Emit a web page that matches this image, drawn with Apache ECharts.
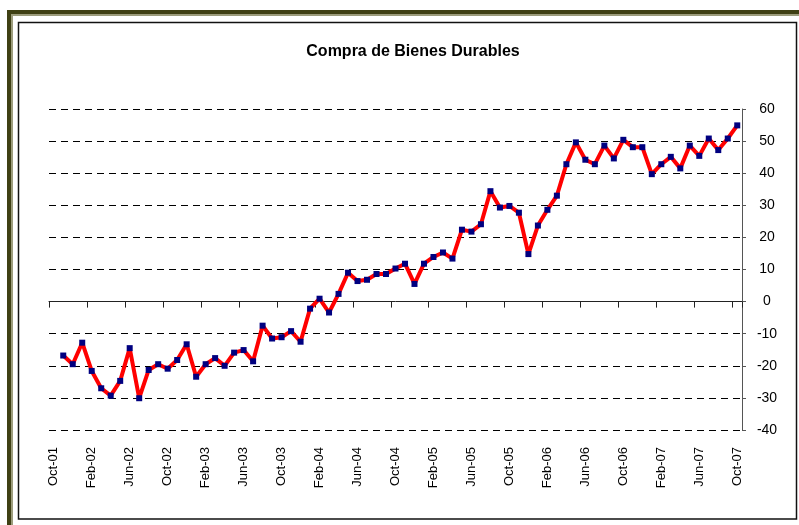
<!DOCTYPE html>
<html>
<head>
<meta charset="utf-8">
<script src="https://cdn.jsdelivr.net/npm/echarts@6/dist/echarts.min.js"></script>
<style>
  html, body { margin: 0; padding: 0; background: #fff; }
  #chart { width: 799px; height: 525px; }
</style>
</head>
<body>
<div id="chart"></div>
<script>
// Monthly categories, Oct-01 through Oct-07
const months = [
  'Oct-01','Nov-01','Dec-01',
  'Jan-02','Feb-02','Mar-02','Apr-02','May-02','Jun-02','Jul-02','Aug-02','Sep-02','Oct-02','Nov-02','Dec-02',
  'Jan-03','Feb-03','Mar-03','Apr-03','May-03','Jun-03','Jul-03','Aug-03','Sep-03','Oct-03','Nov-03','Dec-03',
  'Jan-04','Feb-04','Mar-04','Apr-04','May-04','Jun-04','Jul-04','Aug-04','Sep-04','Oct-04','Nov-04','Dec-04',
  'Jan-05','Feb-05','Mar-05','Apr-05','May-05','Jun-05','Jul-05','Aug-05','Sep-05','Oct-05','Nov-05','Dec-05',
  'Jan-06','Feb-06','Mar-06','Apr-06','May-06','Jun-06','Jul-06','Aug-06','Sep-06','Oct-06','Nov-06','Dec-06',
  'Jan-07','Feb-07','Mar-07','Apr-07','May-07','Jun-07','Jul-07','Aug-07','Sep-07','Oct-07'
];

// Index values, Nov-01 through Oct-07 (Oct-01 has no observation)
const compras = [
  -16.8, -19.5, -12.8, -21.6, -27.0, -29.3, -24.7, -14.5, -30.1, -21.3, -19.5, -20.9,
  -18.2, -13.3, -23.4, -19.5, -17.6, -20.0, -15.9, -15.1, -18.6, -7.5, -11.5, -11.1,
  -9.2, -12.5, -2.2, 0.9, -3.4, 2.4, 9.0, 6.4, 6.8, 8.6, 8.6, 10.3,
  11.8, 5.5, 11.8, 13.9, 15.3, 13.4, 22.4, 21.8, 24.1, 34.4, 29.3, 29.8,
  27.7, 14.8, 23.7, 28.6, 33.0, 42.8, 49.6, 44.2, 42.8, 48.6, 44.6, 50.4,
  48.1, 48.1, 39.7, 42.8, 45.1, 41.5, 48.6, 45.4, 50.8, 47.2, 50.8, 54.9
];

const yMin = -40, yMax = 60, yStep = 10;
const titleText = 'Compra de Bienes Durables';

const seriesData = ['-'].concat(compras);
const FONT = '"Liberation Sans", Arial, sans-serif';

const chart = echarts.init(document.getElementById('chart'), null, { renderer: 'canvas' });

chart.setOption({
  backgroundColor: '#ffffff',
  animation: false,
  title: {
    text: titleText,
    left: 408,
    top: 39,
    textAlign: 'center',
    textStyle: { fontFamily: FONT, fontSize: 16, fontWeight: 'bold', color: '#000' }
  },
  grid: { left: 49, right: 57, top: 109, bottom: 95, containLabel: false },
  xAxis: [
    {
      // axis line crossing at zero, with tick marks only
      type: 'category',
      data: months,
      boundaryGap: true,
      axisLine: { onZero: true, lineStyle: { color: '#222', width: 1 } },
      axisTick: { show: true, interval: 3, alignWithLabel: false, length: 6, lineStyle: { color: '#222' } },
      axisLabel: { show: false },
      splitLine: { show: false }
    },
    {
      // month labels along the bottom of the plot
      type: 'category',
      data: months,
      position: 'bottom',
      boundaryGap: true,
      axisLine: { show: false, onZero: false },
      axisTick: { show: false },
      axisLabel: {
        interval: 3,
        rotate: 90,
        margin: 17,
        fontFamily: FONT,
        fontSize: 13,
        color: '#000'
      },
      splitLine: { show: false }
    }
  ],
  yAxis: {
    type: 'value',
    position: 'right',
    min: yMin,
    max: yMax,
    interval: yStep,
    axisLine: { show: true, lineStyle: { color: '#555', width: 1 } },
    axisTick: { show: true, inside: false, length: 4, lineStyle: { color: '#555' } },
    axisLabel: {
      margin: 25,
      align: 'center',
      fontFamily: FONT,
      fontSize: 14,
      color: '#000'
    },
    splitLine: {
      show: true,
      lineStyle: { color: '#000', width: 1, type: [7, 5] }
    }
  },
  series: [
    {
      name: titleText,
      type: 'line',
      xAxisIndex: 0,
      data: seriesData,
      symbol: 'rect',
      symbolSize: 6,
      showAllSymbol: true,
      lineStyle: { color: '#ff0000', width: 4 },
      itemStyle: { color: '#000080', borderWidth: 0 },
      z: 5
    }
  ],
  graphic: [
    // outer frame (top and left edges)
    { type: 'rect', shape: { x: 7, y: 10, width: 792, height: 4 }, style: { fill: '#3f4014' }, silent: true },
    { type: 'rect', shape: { x: 10, y: 14, width: 789, height: 2 }, style: { fill: '#9c9c7c' }, silent: true },
    { type: 'rect', shape: { x: 7, y: 10, width: 4, height: 515 }, style: { fill: '#3f4014' }, silent: true },
    { type: 'rect', shape: { x: 11, y: 14, width: 2, height: 511 }, style: { fill: '#9c9c7c' }, silent: true },
    // inner chart-area border
    { type: 'rect', shape: { x: 18.5, y: 22.5, width: 778, height: 496.5 }, style: { fill: null, stroke: '#111', lineWidth: 1.5 }, silent: true, z: -1 }
  ]
});
</script>
</body>
</html>
